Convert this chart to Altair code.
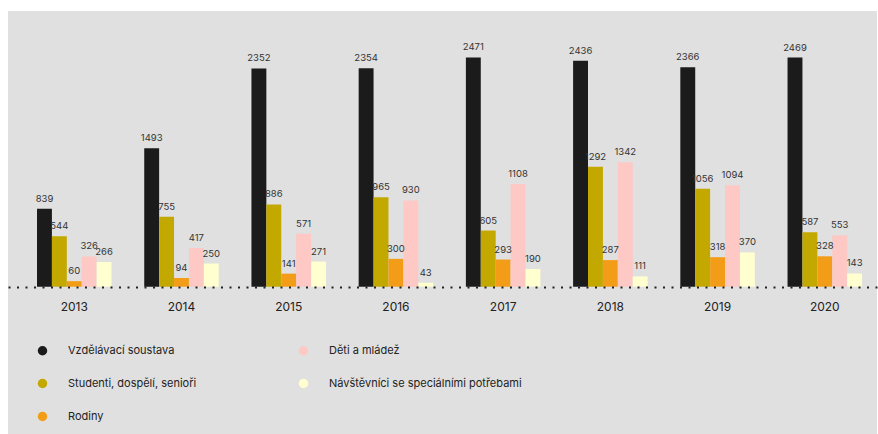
import altair as alt
import pandas as pd

years = ["2013", "2014", "2015", "2016", "2017", "2018", "2019", "2020"]
categories = [
    "Vzdělávací soustava",
    "Studenti, dospělí, senioři",
    "Rodiny",
    "Děti a mládež",
    "Návštěvníci se speciálními potřebami",
]
vzdelavaci = [839, 1493, 2352, 2354, 2471, 2436, 2366, 2469]
studenti = [544, 755, 886, 965, 605, 1292, 1056, 587]
rodiny = [60, 94, 141, 300, 293, 287, 318, 328]
deti = [326, 417, 571, 930, 1108, 1342, 1094, 553]
navstevnici = [266, 250, 271, 43, 190, 111, 370, 143]
colors = ["#1b1b1b", "#c3a800", "#f39c17", "#fec8c4", "#ffffd0"]

series = [vzdelavaci, studenti, rodiny, deti, navstevnici]
rows = []
for cat, vals in zip(categories, series):
    for y, v in zip(years, vals):
        rows.append({"rok": y, "kategorie": cat, "hodnota": v})
df = pd.DataFrame(rows)

FONT = "Inter"

x = alt.X(
    "rok:N",
    sort=years,
    title=None,
    scale=alt.Scale(paddingInner=0.305, paddingOuter=0.205, align=0.66),
    axis=alt.Axis(
        orient="bottom",
        offset=-147,
        labelAngle=0,
        ticks=False,
        domain=True,
        domainDash=[2, 6.5],
        domainWidth=2,
        domainColor="#222222",
        labelFont=FONT,
        labelFontSize=12,
        labelColor="#222222",
        labelPadding=14,
        zindex=1,
    ),
)
xo = alt.XOffset("kategorie:N", sort=categories, scale=alt.Scale(paddingInner=0, paddingOuter=0))
y = alt.Y(
    "hodnota:Q",
    scale=alt.Scale(domain=[-1587, 2971], nice=False, zero=False),
    axis=None,
)

bars = alt.Chart(df).mark_bar().encode(
    x=x,
    xOffset=xo,
    y=y,
    color=alt.Color(
        "kategorie:N",
        scale=alt.Scale(domain=categories, range=colors),
        legend=alt.Legend(
            title=None,
            orient="none",
            legendX=29,
            legendY=334,
            columns=2,
            direction="vertical",
            symbolType="circle",
            symbolSize=90,
            symbolStrokeWidth=0,
            labelFont=FONT,
            labelFontSize=11,
            labelColor="#222222",
            labelOffset=20,
            labelLimit=300,
            columnPadding=101,
            rowPadding=21,
        ),
    ),
)

labels = alt.Chart(df).mark_text(
    baseline="alphabetic", dy=-7, font=FONT, fontSize=9.5, color="#333333"
).encode(
    x=x,
    xOffset=xo,
    y=y,
    text="hodnota:Q",
)

chart = (
    alt.layer(bars, labels)
    .properties(
        width=869,
        height=423,
        background="#ffffff",
        padding={"left": 8, "top": 11, "right": 1, "bottom": 0},
        autosize=alt.AutoSizeParams(type="none"),
    )
    .configure_view(fill="#e0e0e0", stroke=None, strokeWidth=0)
)

chart.save("out.html", embed_options={"renderer": "svg", "actions": False})
